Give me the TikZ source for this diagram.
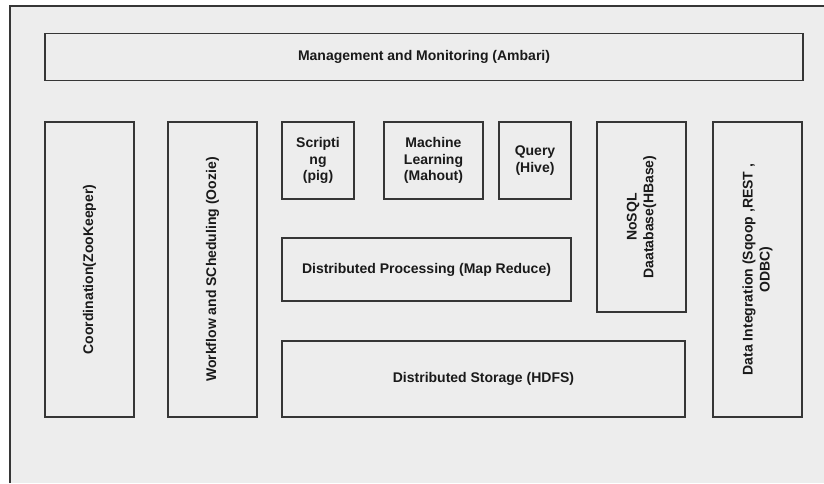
\documentclass[tikz,border=0pt]{standalone}
\usepackage{fontspec}
\setmainfont{Liberation Sans}
\definecolor{bg}{HTML}{EDEDED}
\definecolor{ln}{HTML}{363636}
\definecolor{tx}{HTML}{1A1A1A}
\begin{document}
\begin{tikzpicture}[x=1pt,y=-1pt,
  box/.style={draw=ln,line width=1.8pt,fill=bg,inner sep=0pt,align=center,
    text=tx,font=\fontsize{14}{16.8}\selectfont\bfseries},
  frame/.style={draw=ln,line width=2pt}]
\useasboundingbox (0,0) rectangle (824,483);
\fill[white] (0,0) rectangle (824,483);
\fill[bg] (9.5,6) rectangle (824,483);
\draw[frame] (9.5,483) -- (9.5,6) -- (824,6);
\node[box,minimum width=758pt,minimum height=47pt] (amb) at (424,57) {Management and Monitoring (Ambari)};
\node[box,rotate=90,minimum width=295pt,minimum height=89pt] (coord) at (89.5,269.5) {Coordination(ZooKeeper)};
\node[box,rotate=90,minimum width=295pt,minimum height=89pt] (work) at (212.5,269.5) {Workflow and SCheduling (Oozie)};
\node[box,minimum width=72pt,minimum height=77pt] (script) at (318,160.5) {Scripti\\ng\\(pig)};
\node[box,minimum width=99pt,minimum height=77pt] (ml) at (433.5,160.5) {Machine\\Learning\\(Mahout)};
\node[box,minimum width=72pt,minimum height=77pt] (query) at (535,160.5) {Query\\(Hive)};
\node[box,rotate=90,minimum width=190pt,minimum height=89pt] (nosql) at (641.5,217) {NoSQL\\Daatabase(HBase)};
\node[box,rotate=90,minimum width=295pt,minimum height=89pt] (di) at (757.5,269.5) {Data Integration (Sqoop ,REST ,\\ODBC)};
\node[box,minimum width=289pt,minimum height=63pt] (proc) at (426.5,269.5) {Distributed Processing (Map Reduce)};
\node[box,minimum width=403pt,minimum height=76pt] (stor) at (483.5,379) {Distributed Storage (HDFS)};
\end{tikzpicture}
\end{document}
